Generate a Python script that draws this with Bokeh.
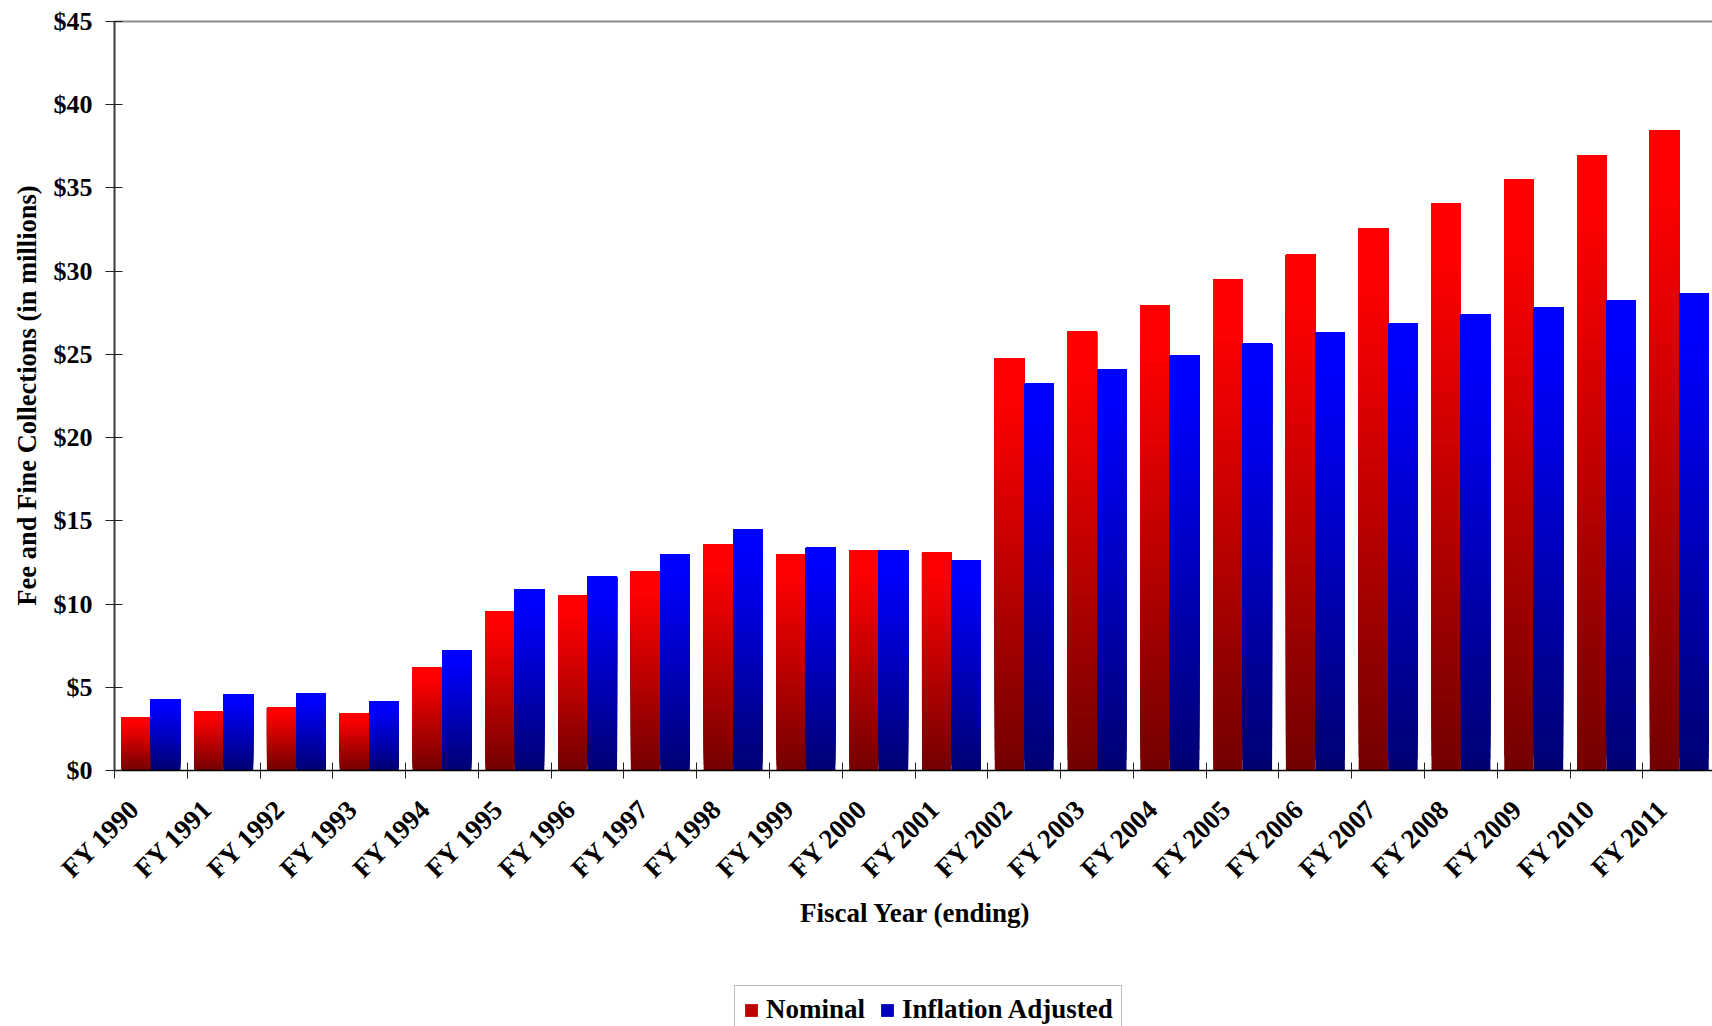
import numpy as np
from bokeh.plotting import figure
from bokeh.models import (Range1d, FixedTicker, NumeralTickFormatter, Legend,
                          LegendItem, ColumnDataSource, LinearAxis, Label)
from bokeh.embed import file_html
from bokeh.resources import INLINE

# ---------------- data ----------------
years = ["FY 1990", "FY 1991", "FY 1992", "FY 1993", "FY 1994", "FY 1995",
         "FY 1996", "FY 1997", "FY 1998", "FY 1999", "FY 2000", "FY 2001",
         "FY 2002", "FY 2003", "FY 2004", "FY 2005", "FY 2006", "FY 2007",
         "FY 2008", "FY 2009", "FY 2010", "FY 2011"]
nominal = [3.18, 3.54, 3.78, 3.42, 6.18, 9.55, 10.51, 11.95, 13.59, 12.97,
           13.21, 13.09, 24.74, 26.37, 27.93, 29.49, 30.99, 32.55, 34.05,
           35.50, 36.94, 38.44]
adjusted = [4.26, 4.56, 4.62, 4.14, 7.20, 10.87, 11.65, 12.97, 14.47, 13.39,
            13.21, 12.61, 23.24, 24.08, 24.92, 25.64, 26.31, 26.85, 27.39,
            27.81, 28.23, 28.65]
series_names = ["Nominal", "Inflation Adjusted"]
y_ticks = [0, 5, 10, 15, 20, 25, 30, 35, 40, 45]
x_title = "Fiscal Year (ending)"
y_title = "Fee and Fine Collections (in millions)"

FONT = "Liberation Serif"
N = 40          # gradient slices per bar
BAR_W = 0.405

W, H = 1712, 1026
AXIS_X, TOP_Y, ZERO_Y = 114, 21, 770         # page pixels of y axis, $45 and $0
CAT_PX = 72.78                               # pixels per category
PX_Y = (ZERO_Y - TOP_Y) / 45.0
x_start = -AXIS_X / CAT_PX
x_end = (W - AXIS_X) / CAT_PX
y_start = -(H - ZERO_Y) / PX_Y
y_end = 45 + TOP_Y / PX_Y


def gradient_source(values, top_rgb, bottom_rgb, offset):
    xs, bottoms, tops, colors = [], [], [], []
    for i, v in enumerate(values):
        for k in range(N):
            f = 1.0 - (k + 0.5) / N           # fraction from top
            d = max(0.0, (f - 0.1) / 0.9)     # darkening amount
            rgb = [round(t + (b - t) * d) for t, b in zip(top_rgb, bottom_rgb)]
            xs.append(i + 0.5 + offset)
            bottoms.append(v * k / N)
            tops.append(v)
            colors.append("#%02x%02x%02x" % tuple(rgb))
    return ColumnDataSource(dict(x=xs, bottom=bottoms, top=tops, color=colors))


p = figure(width=W, height=H, output_backend="svg", toolbar_location=None,
           x_range=Range1d(x_start, x_end), y_range=Range1d(y_start, y_end),
           min_border=0)
p.outline_line_color = None
p.xgrid.visible = False
p.ygrid.visible = False
p.background_fill_color = "white"

src_nom = gradient_source(nominal, (255, 0, 0), (114, 0, 0), -BAR_W / 2)
src_adj = gradient_source(adjusted, (0, 0, 255), (0, 0, 114), BAR_W / 2)
r_nom = p.vbar(x="x", bottom="bottom", top="top", width=BAR_W, source=src_nom,
               fill_color="color", line_color=None)
r_adj = p.vbar(x="x", bottom="bottom", top="top", width=BAR_W, source=src_adj,
               fill_color="color", line_color=None)

n_cat = len(years)

# the figure's own axes (grab them before adding any extra axis)
xa = p.below[0]
ya = p.left[0]

# y axis, fixed at x = 0
ya.fixed_location = 0
ya.ticker = FixedTicker(ticks=y_ticks)
ya.bounds = (0, 45)
ya.formatter = NumeralTickFormatter(format="$0")
ya.major_label_text_font = FONT
ya.major_label_text_font_size = "26px"
ya.major_label_text_font_style = "bold"
ya.major_label_text_color = "black"
ya.major_label_standoff = 13
ya.axis_line_color = "#3a3a3a"
ya.axis_line_width = 2
ya.major_tick_in = 8
ya.major_tick_out = 9
ya.major_tick_line_color = "#222222"
ya.minor_tick_line_color = None

# x axis at y = 0: labels near category centre, ticks at category boundaries (minor)
label_pos = [i + 0.276 for i in range(n_cat)]
xa.fixed_location = 0
xa.bounds = (0, n_cat)
xa.ticker = FixedTicker(ticks=label_pos, minor_ticks=list(range(n_cat + 1)))
xa.major_label_overrides = {pos: lab for pos, lab in zip(label_pos, years)}
xa.major_label_orientation = np.pi / 4
xa.major_label_text_font = FONT
xa.major_label_text_font_size = "27px"
xa.major_label_text_font_style = "bold"
xa.major_label_text_color = "black"
xa.major_label_standoff = 26
xa.major_tick_in = 0
xa.major_tick_out = 0
xa.minor_tick_in = 8
xa.minor_tick_out = 8
xa.minor_tick_line_color = "#222222"
xa.axis_line_color = "black"
xa.axis_line_width = 1.5

# top border (an unlabelled axis fixed at $45)
top_ax = LinearAxis(fixed_location=45, ticker=FixedTicker(ticks=[]),
                    bounds=(0, n_cat), axis_line_color="#8c8c8c", axis_line_width=2,
                    major_tick_line_color=None, minor_tick_line_color=None,
                    major_label_text_font_size="0px")
p.add_layout(top_ax, "above")

# axis titles
p.add_layout(Label(x=26, y=H - 395, x_units="screen", y_units="screen",
                   text=y_title, angle=np.pi / 2, text_align="center",
                   text_baseline="middle", text_font=FONT, text_font_size="26.5px",
                   text_font_style="bold", text_color="black"))
p.add_layout(Label(x=915, y=H - 912, x_units="screen", y_units="screen",
                   text=x_title, text_align="center", text_baseline="middle",
                   text_font=FONT, text_font_size="27px", text_font_style="bold",
                   text_color="black"))

# legend (box top at page y ~987, running off the bottom edge like the original)
LEG_FS = 27
LEG_PAD = 8
leg_box_h = 2 * LEG_PAD + LEG_FS
leg_top = 991
legend = Legend(items=[LegendItem(label=series_names[0], renderers=[r_nom], index=18),
                       LegendItem(label=series_names[1], renderers=[r_adj], index=18)],
                orientation="horizontal",
                location=(734, (H - leg_top) - leg_box_h),
                label_text_font=FONT, label_text_font_size="%spx" % LEG_FS,
                label_text_font_style="bold", label_text_color="black",
                label_text_line_height=1.0,
                glyph_width=16, glyph_height=16, label_standoff=7, spacing=14,
                padding=LEG_PAD, border_line_color="#777777", border_line_width=1.5,
                background_fill_color="white", background_fill_alpha=1.0,
                margin=0)
p.add_layout(legend, "center")

open("out.html", "w").write(file_html(p, INLINE))
